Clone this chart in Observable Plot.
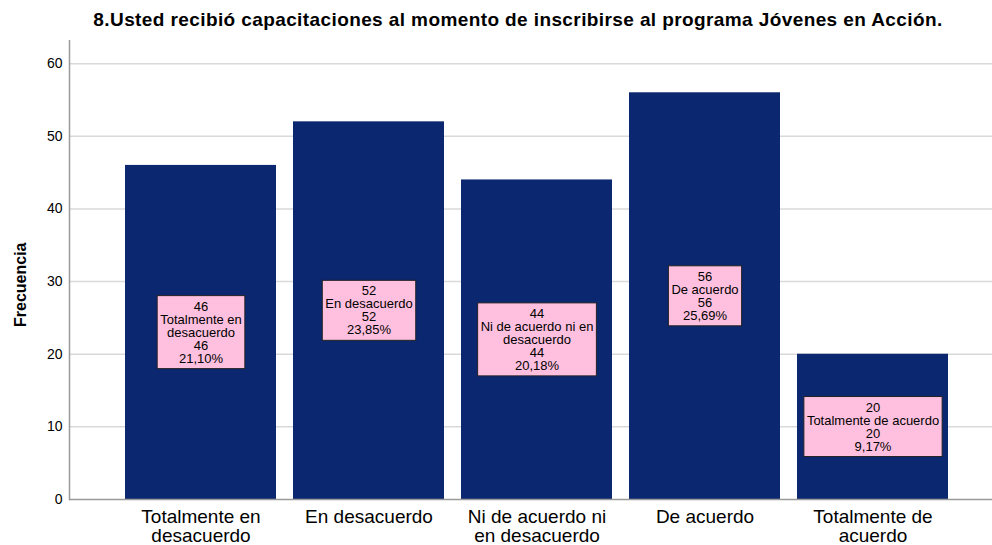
<!DOCTYPE html>
<html><head><meta charset="utf-8">
<script src="https://cdn.jsdelivr.net/npm/d3@7"></script>
<script src="https://cdn.jsdelivr.net/npm/@observablehq/plot@0.6"></script>
<style>
body{margin:0;background:#fff;font-family:Arial,"Liberation Sans",sans-serif}
#title{height:40px;width:992px;box-sizing:border-box;text-align:center;font-weight:bold;font-size:19px;letter-spacing:0.4px;line-height:19px;padding-top:10px;padding-left:44px;color:#000;white-space:nowrap}
#chart{height:505px}
</style></head><body>
<div id="title">8.Usted recibió capacitaciones al momento de inscribirse al programa Jóvenes en Acción.</div>
<div id="chart"></div>
<script>
const categories = ["Totalmente en desacuerdo", "En desacuerdo", "Ni de acuerdo ni en desacuerdo", "De acuerdo", "Totalmente de acuerdo"];
const tickLabels = ["Totalmente en\ndesacuerdo", "En desacuerdo", "Ni de acuerdo ni\nen desacuerdo", "De acuerdo", "Totalmente de\nacuerdo"];
const boxNames = ["Totalmente en\ndesacuerdo", "En desacuerdo", "Ni de acuerdo ni en\ndesacuerdo", "De acuerdo", "Totalmente de acuerdo"];
const counts = [46, 52, 44, 56, 20];
const percents = ["21,10%", "23,85%", "20,18%", "25,69%", "9,17%"];
const yTicks = [0, 10, 20, 30, 40, 50, 60];

const data = categories.map((c, i) => ({
  cat: c,
  count: counts[i],
  label: `${counts[i]}\n${boxNames[i]}\n${counts[i]}\n${percents[i]}`
}));

const plot = Plot.plot({
  width: 992, height: 505,
  marginLeft: 69, marginRight: 0, marginTop: 0, marginBottom: 46,
  style: {fontFamily: "Arial, 'Liberation Sans', sans-serif", background: "#fff", color: "#000"},
  x: {domain: categories, range: [124, 950], paddingInner: 0.1, paddingOuter: 0},
  y: {domain: [0, 63.2], range: [459, 0]},
  marks: [
    Plot.ruleY(yTicks.filter(d => d > 0), {stroke: "#d9d9d9", strokeWidth: 1.5}),
    Plot.barY(data, {x: "cat", y: "count", fill: "#0b2770"}),
    Plot.ruleY([0], {stroke: "#9a9a9a", strokeWidth: 1.5}),
    Plot.frame({anchor: "left", stroke: "#9a9a9a", strokeWidth: 1.5}),
    Plot.axisY({ticks: yTicks, tickSize: 0, tickPadding: 7, fontSize: 14, label: null}),
    Plot.axisX({tickSize: 0, tickPadding: 10, fontSize: 19, label: null, lineHeight: 1.0,
      tickFormat: d => tickLabels[categories.indexOf(d)]}),
    Plot.text(data, {x: "cat", y: d => d.count / 2, text: "label", fontSize: 13, lineHeight: 1.0, fill: "#000"}),
    Plot.text(["Frecuencia"], {frameAnchor: "left", dx: -49, dy: 57, rotate: -90, fontSize: 16, fontWeight: "bold", fill: "#000"})
  ]
});
document.getElementById("chart").append(plot);

const g = plot.querySelectorAll('g[aria-label="text"]')[0];
if (g) {
  g.querySelectorAll("text").forEach(t => {
    const b = t.getBBox();
    const r = document.createElementNS("http://www.w3.org/2000/svg", "rect");
    r.setAttribute("x", b.x - 3);
    r.setAttribute("y", b.y - 3);
    r.setAttribute("width", b.width + 6);
    r.setAttribute("height", b.height + 6);
    r.setAttribute("fill", "#ffc0df");
    r.setAttribute("stroke", "#222");
    r.setAttribute("stroke-width", 1);
    const tr = t.getAttribute("transform");
    if (tr) r.setAttribute("transform", tr);
    g.insertBefore(r, t);
  });
}
</script>
</body></html>
